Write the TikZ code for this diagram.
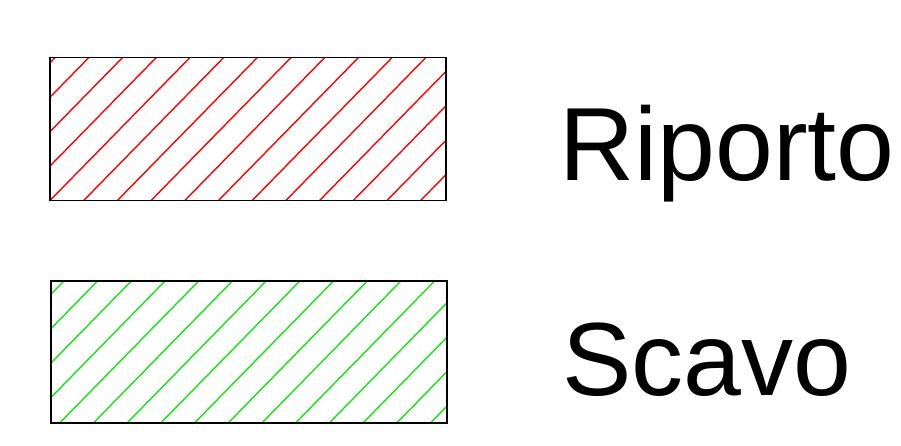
\documentclass[tikz,border=0pt]{standalone}
\usepackage{fontspec}
\setmainfont{Liberation Sans}
\usetikzlibrary{calc}
\definecolor{hatchred}{RGB}{255,0,0}
\definecolor{hatchgreen}{RGB}{20,230,20}
\tikzset{
  legendbox/.style={draw=black, line width=1.8pt, inner sep=0pt, minimum width=396pt, minimum height=143pt},
  hatchline/.style={line width=1.4pt},
  legendlabel/.style={inner sep=0pt, anchor=base west, font=\fontsize{104}{120}\selectfont}
}
\begin{document}
\begin{tikzpicture}[x=1pt,y=-1pt]
\useasboundingbox (0,0) rectangle (901,446);
\node[legendbox, path picture={
    \foreach \k in {-6,...,13}
      \draw[hatchline, hatchred] ($(path picture bounding box.south west)+(\k*33.7pt,0pt)$) -- ++(140pt,143pt);
  }] (riporto) at (248,129) {};
\node[legendbox, minimum height=142.6pt, path picture={
    \foreach \k in {-6,...,13}
      \draw[hatchline, hatchgreen] ($(path picture bounding box.south west)+(\k*33.7pt+8.6pt,0pt)$) -- ++(140pt,143pt);
  }] (scavo) at (248.8,352) {};
\node[legendlabel] (riportolabel) at (559,180.7) {Riporto};
\node[legendlabel] (scavolabel) at (562,395) {Scavo};
\end{tikzpicture}
\end{document}
